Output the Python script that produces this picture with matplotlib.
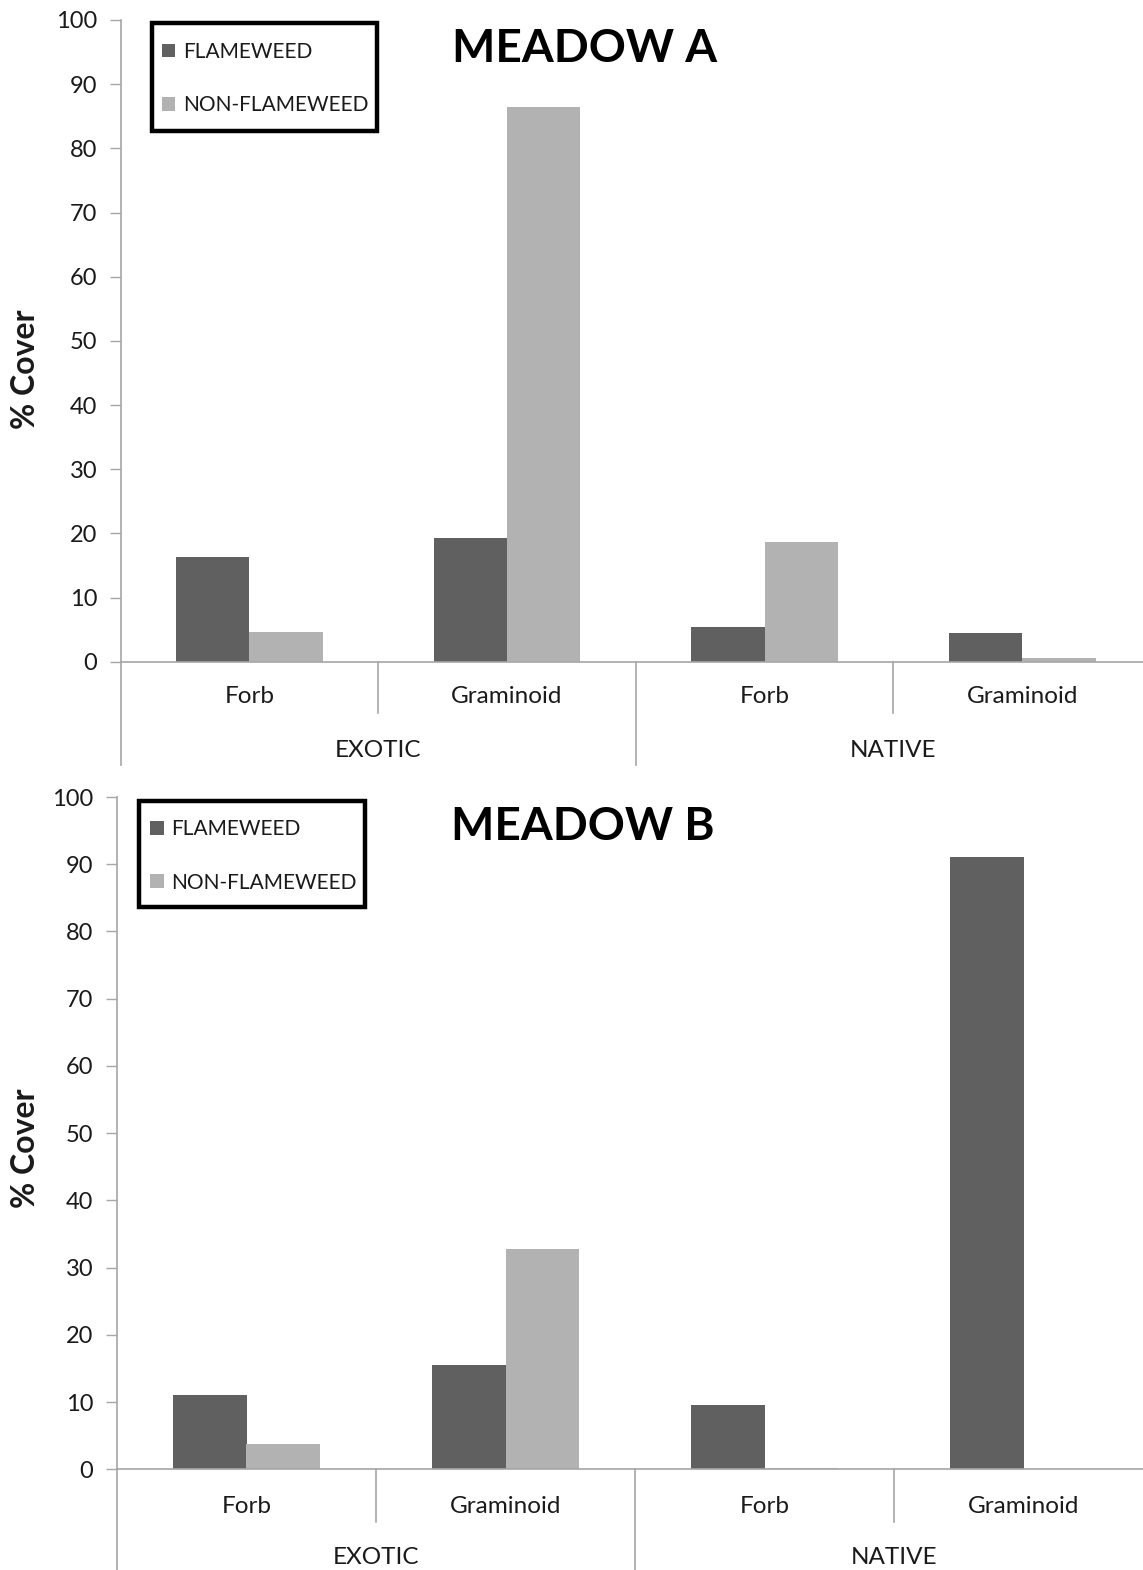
import numpy as np
import matplotlib
matplotlib.use("Agg")
import matplotlib.pyplot as plt
import matplotlib.transforms as mtransforms
from matplotlib.patches import Rectangle

plt.rcParams['font.family'] = ['Lato', 'DejaVu Sans']

groups = ["EXOTIC", "NATIVE"]
types = ["Forb", "Graminoid", "Forb", "Graminoid"]
series = ["FLAMEWEED", "NON-FLAMEWEED"]

meadow_a_flame = [16.3, 19.2, 5.4, 4.4]
meadow_a_non = [4.7, 86.5, 18.7, 0.5]
meadow_b_flame = [11.1, 15.5, 9.6, 91.1]
meadow_b_non = [3.7, 32.8, 0.25, 0.0]

dark = "#606060"
light = "#b2b2b2"
axis_col = "#a6a6a6"
txt = "#1a1a1a"

W, H = 1143, 1570
fig = plt.figure(figsize=(W / 100, H / 100), dpi=100)


def panel(rect, title, flame, non, sep_short, sep_long, lab_y, grp_y,
          leg_xy, box, ylab_xy):
    ax = fig.add_axes(rect)
    x = np.arange(len(types)) + 0.5
    w = 0.285
    ax.bar(x - w / 2, flame, w, color=dark, label=series[0])
    ax.bar(x + w / 2, non, w, color=light, label=series[1])
    ax.set_xlim(0, 4)
    ax.set_ylim(0, 100)
    ax.set_yticks(np.arange(0, 101, 10))
    ax.tick_params(axis='y', length=8, width=1, color=axis_col,
                   labelsize=17, labelcolor=txt, pad=9)
    ax.set_xticks([])
    for s in ['top', 'right']:
        ax.spines[s].set_visible(False)
    for s in ['left', 'bottom']:
        ax.spines[s].set_color(axis_col)
        ax.spines[s].set_linewidth(1.2)
    ax.set_ylabel("% Cover", fontsize=23, fontweight='bold', color=txt)
    ax.yaxis.set_label_coords(*ylab_xy)

    tr = mtransforms.blended_transform_factory(ax.transData, ax.transAxes)
    # category separators under the axis
    for xs, yb in [(0, sep_long), (1, sep_short), (2, sep_long), (3, sep_short)]:
        ax.plot([xs, xs], [0, yb], transform=tr, color=axis_col, lw=1.2,
                clip_on=False)
    for xi, t in zip(x, types):
        ax.text(xi, lab_y, t, transform=tr, ha='center', va='center',
                fontsize=17.5, color=txt)
    for gi, g in enumerate(groups):
        ax.text(1 + 2 * gi, grp_y, g, transform=tr, ha='center', va='center',
                fontsize=17.5, color=txt)

    ax.text(0.45, 0.955, title, transform=ax.transAxes, ha='center', va='center',
            fontsize=33, fontweight='bold', color='black')

    # legend entries without frame, box drawn separately
    leg = ax.legend(loc='upper left', bbox_to_anchor=leg_xy, fontsize=15,
                    frameon=False, labelspacing=1.6,
                    handlelength=0.65, handleheight=0.65, handletextpad=0.35,
                    borderpad=0, borderaxespad=0)
    for t in leg.get_texts():
        t.set_color(txt)
    x0, y0, x1, y1 = box
    ax.add_patch(Rectangle((x0, y0), x1 - x0, y1 - y0, transform=ax.transAxes,
                           fill=False, edgecolor='black', linewidth=3.2,
                           clip_on=False, zorder=5))
    return ax


# top panel: axis x 120.7..1151 px, y 20..661.7 px
panel([120.7 / W, 1 - 661.7 / H, (1151 - 120.7) / W, (661.7 - 20) / H],
      "MEADOW A", meadow_a_flame, meadow_a_non,
      -0.080, -0.161, -0.055, -0.138,
      (0.040, 0.966), (0.0304, 0.827, 0.2488, 0.9953), (-0.078, 0.455))

# bottom panel: axis x 117..1153 px, y 797..1469.3 px
panel([117 / W, 1 - 1469.3 / H, (1153 - 117) / W, (1469.3 - 797) / H],
      "MEADOW B", meadow_b_flame, meadow_b_non,
      -0.078, -0.152, -0.055, -0.131,
      (0.0319, 0.967), (0.0212, 0.8364, 0.2394, 0.994), (-0.074, 0.478))

fig.savefig("out.png", dpi=100)
